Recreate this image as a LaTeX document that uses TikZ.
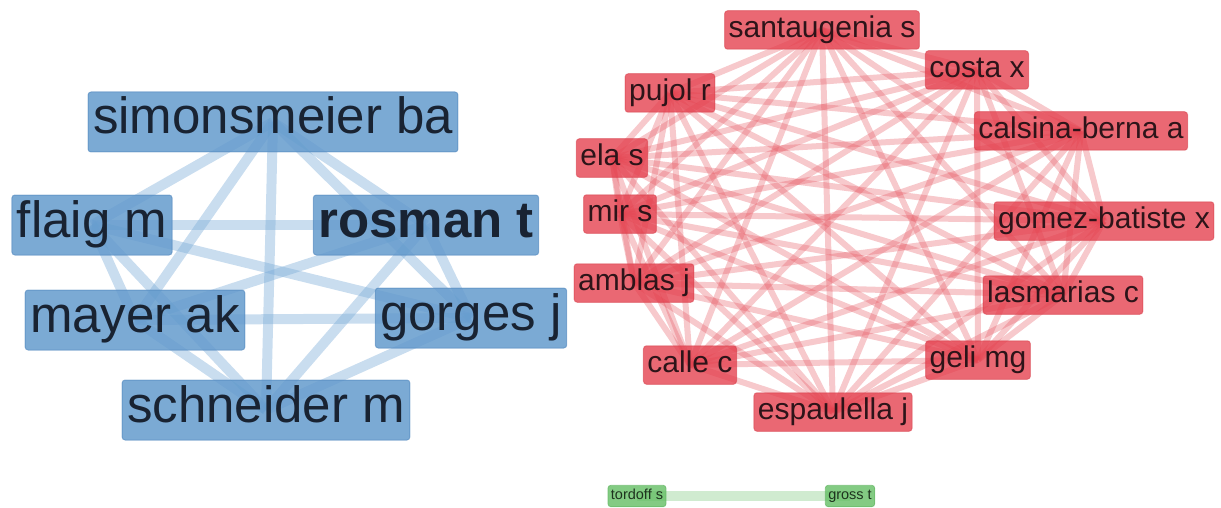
\documentclass[tikz,border=0pt]{standalone}
\usepackage{fontspec}
\setmainfont{Liberation Sans}
\pgfdeclarelayer{bg}
\pgfsetlayers{bg,main}
\definecolor{bfill}{RGB}{100,155,205}
\definecolor{bdraw}{RGB}{80,135,190}
\definecolor{btext}{RGB}{25,35,50}
\definecolor{bline}{RGB}{120,170,215}
\definecolor{rfill}{RGB}{228,62,76}
\definecolor{rdraw}{RGB}{215,60,72}
\definecolor{rtext}{RGB}{45,20,25}
\definecolor{rline}{RGB}{230,90,100}
\definecolor{gfill}{RGB}{100,190,100}
\definecolor{gdraw}{RGB}{85,175,85}
\definecolor{gtext}{RGB}{30,50,30}
\definecolor{gline}{RGB}{150,210,150}
\begin{document}
\begin{tikzpicture}[x=1pt,y=-1pt,
  bnode/.style={rounded corners=3pt, fill=bfill, fill opacity=0.85, draw=bdraw, draw opacity=0.6, line width=1pt, text opacity=1, text=btext, font=\fontsize{51}{51}\selectfont, inner xsep=5pt, inner ysep=6pt, text height=36pt, text depth=12pt},
  rnode/.style={rounded corners=3pt, fill=rfill, fill opacity=0.78, draw=rdraw, draw opacity=0.5, line width=1pt, text opacity=1, text=rtext, font=\fontsize{30}{30}\selectfont, inner xsep=4pt, inner ysep=5pt, text height=21.5pt, text depth=7pt},
  gnode/.style={rounded corners=3pt, fill=gfill, fill opacity=0.8, draw=gdraw, draw opacity=0.6, line width=0.8pt, text opacity=1, text=gtext, font=\fontsize{14.5}{14.5}\selectfont, inner xsep=3pt, inner ysep=4pt, text height=10.5pt, text depth=3pt},
  bedge/.style={draw=bline, draw opacity=0.4, line width=10pt},
  redge/.style={draw=rline, draw opacity=0.33, line width=6pt},
  gedge/.style={draw=gline, draw opacity=0.45, line width=10pt}]
\useasboundingbox (0,0) rectangle (1221,508);
% blue cluster
\node[bnode] (sim) at (273,122) {simonsmeier ba};
\node[bnode] (fla) at (92,225) {flaig m};
\node[bnode, font=\fontsize{51}{51}\selectfont\bfseries] (ros) at (426,225) {rosman t};
\node[bnode] (may) at (135,320) {mayer ak};
\node[bnode] (gor) at (471,318) {gorges j};
\node[bnode] (sch) at (266,410) {schneider m};
% red cluster
\node[rnode] (san) at (822,30) {santaugenia s};
\node[rnode] (cos) at (977,70) {costa x};
\node[rnode] (puj) at (670,93) {pujol r};
\node[rnode] (cal) at (1081,131) {calsina-berna a};
\node[rnode] (ela) at (612,158) {ela s};
\node[rnode] (mir) at (620,214) {mir s};
\node[rnode] (gom) at (1104,221) {gomez-batiste x};
\node[rnode] (amb) at (634,283) {amblas j};
\node[rnode] (las) at (1063,295) {lasmarias c};
\node[rnode] (cll) at (690,365) {calle c};
\node[rnode] (gel) at (978,360) {geli mg};
\node[rnode] (esp) at (833,412) {espaulella j};
% green cluster
\node[gnode] (tor) at (637,496) {tordoff s};
\node[gnode] (gro) at (850,496) {gross t};
\begin{pgfonlayer}{bg}
\foreach \a [count=\n] in {sim,fla,ros,may,gor,sch}{
  \foreach \b [count=\m] in {sim,fla,ros,may,gor,sch}{
    \ifnum\m>\n \draw[bedge] (\a.center) -- (\b.center); \fi
  }
}
\foreach \a [count=\n] in {san,cos,cal,gom,las,gel,esp,cll,amb,mir,ela,puj}{
  \foreach \b [count=\m] in {san,cos,cal,gom,las,gel,esp,cll,amb,mir,ela,puj}{
    \ifnum\m>\n \draw[redge] (\a.center) -- (\b.center); \fi
  }
}
\draw[gedge] (tor.center) -- (gro.center);
\end{pgfonlayer}
\end{tikzpicture}
\end{document}
